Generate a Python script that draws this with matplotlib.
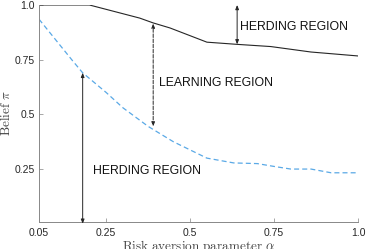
import matplotlib.pyplot as plt

# values
ALPHA_UPPER = [0.05, 0.20, 0.35, 0.39, 0.44, 0.55, 0.64, 0.74, 0.86, 1.00]
BELIEF_UPPER = [1.0, 1.0, 0.94, 0.918, 0.895, 0.83, 0.82, 0.81, 0.785, 0.767]

ALPHA_LOWER = [0.05, 0.10, 0.15, 0.18, 0.25, 0.30, 0.375, 0.45, 0.55, 0.63,
               0.70, 0.75, 0.80, 0.86, 0.92, 1.00]
BELIEF_LOWER = [0.935, 0.84, 0.745, 0.69, 0.60, 0.53, 0.445, 0.375, 0.30, 0.278,
                0.275, 0.262, 0.25, 0.25, 0.233, 0.233]

X_TICKS = [0.05, 0.25, 0.5, 0.75, 1.0]
X_TICK_LABELS = ["0.05", "0.25", "0.5", "0.75", "1.0"]
Y_TICKS = [0.25, 0.5, 0.75, 1.0]
Y_TICK_LABELS = ["0.25", "0.5", "0.75", "1.0"]

# (alpha, bottom, top, linestyle)
ARROWS = [(0.18, 0.0, 0.69, "-"), (0.39, 0.445, 0.915, "--"), (0.64, 0.82, 1.0, "-")]
LABELS = [(0.65, 0.90, "HERDING REGION"), (0.407, 0.644, "LEARNING REGION"),
          (0.21, 0.242, "HERDING REGION")]

plt.rcParams["mathtext.fontset"] = "cm"
plt.rcParams["font.family"] = ["Liberation Sans", "DejaVu Sans"]

fig = plt.figure(figsize=(3.66, 2.49), dpi=100)
ax = fig.add_axes([0.1066, 0.1084, 0.8716, 0.8716])

ax.plot(ALPHA_UPPER, BELIEF_UPPER, color="#262626", linewidth=0.8)
ax.plot(ALPHA_LOWER, BELIEF_LOWER, color="#5aa9e6", linewidth=0.9,
        linestyle=(0, (4, 2.5)))

for x, lo, hi, ls in ARROWS:
    ax.annotate("", xy=(x, hi), xytext=(x, lo),
                arrowprops=dict(arrowstyle="<|-|>,head_length=0.25,head_width=0.1",
                                color="#262626", lw=0.7, linestyle=ls,
                                shrinkA=0, shrinkB=0))

for x, y, txt in LABELS:
    ax.text(x, y, txt, fontsize=8.8, ha="left", va="center", color="#111111")

ax.set_xlim(0.05, 1.0)
ax.set_ylim(0.008, 1.0)
ax.set_xticks(X_TICKS)
ax.set_xticklabels(X_TICK_LABELS)
ax.set_yticks(Y_TICKS)
ax.set_yticklabels(Y_TICK_LABELS)
ax.tick_params(direction="in", length=3, width=0.6, colors="#999999",
               labelcolor="#262626", labelsize=7.5)
ax.tick_params(axis="x", pad=4)
ax.tick_params(axis="y", pad=3)

for side in ["top", "right"]:
    ax.spines[side].set_visible(False)
for side in ["left", "bottom"]:
    ax.spines[side].set_color("#888888")
    ax.spines[side].set_linewidth(0.7)

ax.set_xlabel(r"$\mathrm{Risk\ aversion\ parameter}\ \alpha$", fontsize=9.5,
              color="#444444", labelpad=0)
ax.set_ylabel(r"$\mathrm{Belief}\ \pi$", fontsize=9.5, color="#444444", labelpad=1)

fig.savefig("out.png", dpi=100)
